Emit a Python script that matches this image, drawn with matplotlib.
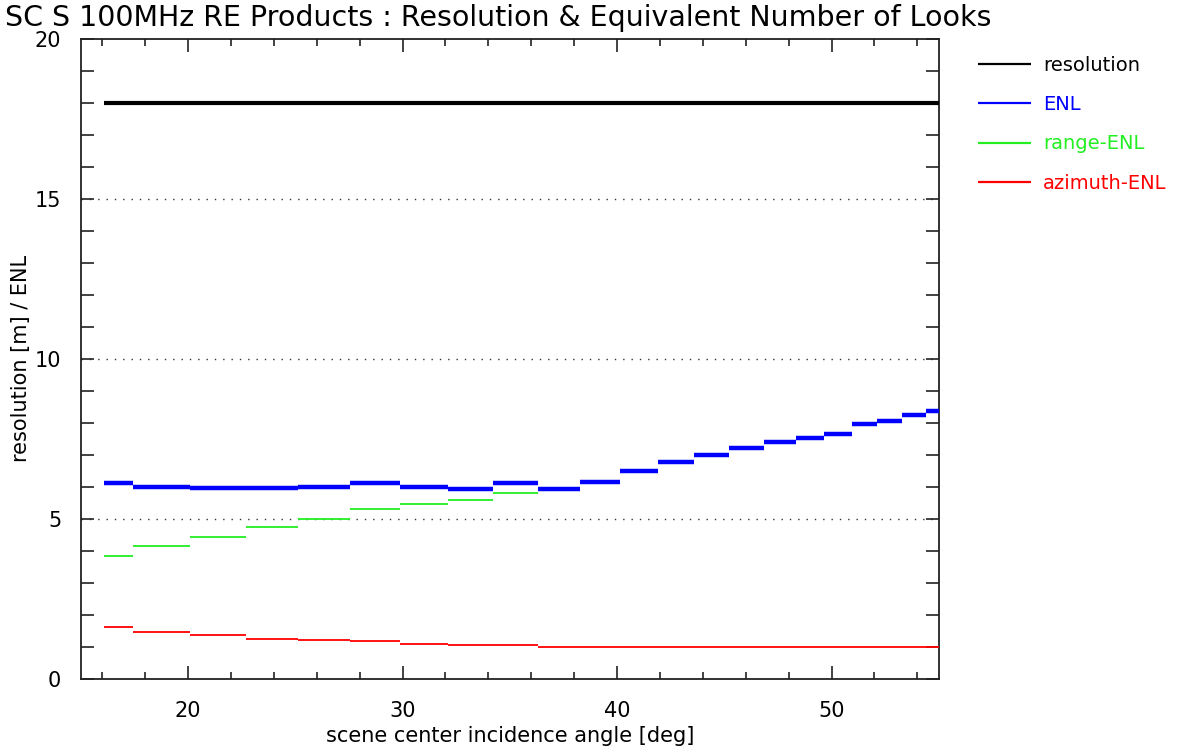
import numpy as np
import matplotlib
matplotlib.use("Agg")
import matplotlib.pyplot as plt
from matplotlib.ticker import MultipleLocator

# step boundaries of the beams (incidence angle, deg)
edges = [16.07, 17.42, 20.08, 22.71, 25.12, 27.53, 29.88, 32.10, 34.20, 36.30,
         38.27, 40.12, 41.93, 43.59, 45.24, 46.86, 48.35, 49.66, 50.94, 52.13,
         53.27, 54.42, 55.60]

enl = [6.12, 5.99, 5.95, 5.95, 5.99, 6.12, 5.99, 5.92, 6.12, 5.92,
       6.16, 6.49, 6.76, 7.00, 7.20, 7.40, 7.52, 7.65, 7.96, 8.04,
       8.24, 8.37]
range_enl = [3.83, 4.15, 4.43, 4.75, 4.99, 5.31, 5.47, 5.59, 5.79, 5.92,
             6.16, 6.49, 6.76, 7.00, 7.20, 7.40, 7.52, 7.65, 7.96, 8.04,
             8.24, 8.37]
azimuth_enl = [1.62, 1.45, 1.375, 1.25, 1.21, 1.17, 1.09, 1.05, 1.04, 1.0,
               1.0, 1.0, 1.0, 1.0, 1.0, 1.0, 1.0, 1.0, 1.0, 1.0,
               1.0, 1.0]
resolution = 18.0
res_range = [16.07, 55.0]

labels = ["resolution", "ENL", "range-ENL", "azimuth-ENL"]
colors = ["black", "#0000ff", "#22ee22", "#ff0000"]

plt.rcParams['font.family'] = ['DejaVu Sans']
fig = plt.figure(figsize=(12, 7.51), dpi=100)
ax = fig.add_axes([0.0673, 0.0963, 0.7150, 0.8522])

x0 = np.array(edges[:-1])
x1 = np.array(edges[1:])

h_res = ax.hlines(resolution, res_range[0], res_range[1], color=colors[0], lw=3.0, label=labels[0], zorder=3)
h_az = ax.hlines(azimuth_enl, x0, x1, color=colors[3], lw=1.3, label=labels[3], zorder=3)
h_rg = ax.hlines(range_enl, x0, x1, color=colors[2], lw=1.3, label=labels[2], zorder=3)
h_enl = ax.hlines(enl, x0, x1, color=colors[1], lw=3.2, label=labels[1], zorder=4)

for yv in [5, 10, 15]:
    ax.axhline(yv, color='#333333', lw=1.0, dashes=(1, 5), zorder=1)

ax.set_xlim(15, 55)
ax.set_ylim(0, 20)
ax.xaxis.set_major_locator(MultipleLocator(10))
ax.xaxis.set_minor_locator(MultipleLocator(2))
ax.yaxis.set_major_locator(MultipleLocator(5))
ax.yaxis.set_minor_locator(MultipleLocator(1))
ax.tick_params(which='both', direction='in', top=True, right=True, color='#222222', width=1.2, labelsize=15)
ax.tick_params(axis='y', which='both', length=9.5, pad=14)
ax.tick_params(axis='x', which='major', length=9.5, pad=16)
ax.tick_params(axis='x', which='minor', length=5)
for s in ax.spines.values():
    s.set_linewidth(1.3)
    s.set_color('#222222')

ax.set_xlabel("scene center incidence angle [deg]", fontsize=15, labelpad=4)
ax.set_ylabel("resolution [m] / ENL", fontsize=15, labelpad=3)
fig.text(0.004, 0.976, "SC S 100MHz RE Products : Resolution & Equivalent Number of Looks",
         fontsize=20.5, ha='left', va='center')

leg = ax.legend(handles=[h_res, h_enl, h_rg, h_az], loc='upper left',
                bbox_to_anchor=(0.815, 0.926), bbox_transform=fig.transFigure,
                frameon=False, fontsize=14, handlelength=2.7, handletextpad=0.65,
                labelspacing=1.05, borderpad=0, borderaxespad=0)
for hd, txt, c in zip(leg.legend_handles, leg.get_texts(), [colors[0], colors[1], colors[2], colors[3]]):
    hd.set_linewidth(1.6)
    txt.set_color(c)

fig.savefig("out.png", dpi=100)
